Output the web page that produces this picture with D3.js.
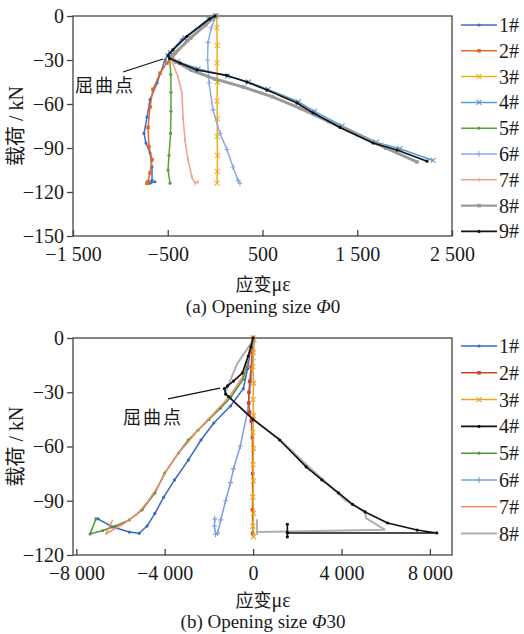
<!doctype html>
<html lang="zh">
<head>
<meta charset="utf-8">
<title>load strain</title>
<script src="https://d3js.org/d3.v7.min.js"></script>
<style>
  body { margin: 0; background: #fff; }
  text { fill: #1a1a1a; }
  .num { font-family: "Liberation Serif", "Times New Roman", serif; }
  .cjk { font-family: "Noto Sans CJK SC", sans-serif; }
</style>
</head>
<body>
<svg id="fig" width="524" height="634"></svg>
<script>
// ---- panel (a) : opening size 0, [strain, load]
var a1 = [[0,0],[-120,-5],[-350,-16],[-480,-25],[-529,-30],[-613,-45.7],[-687,-57],[-719,-69],[-751,-80],[-730,-86.6],[-687,-93.4],[-666,-103],[-666,-112],[-687,-114],[-635,-113]];
var a2 = [[0,0],[-100,-6],[-300,-17],[-450,-27],[-508,-32],[-582,-39],[-656,-50],[-687,-62],[-708,-76],[-698,-89],[-666,-98],[-687,-107],[-708,-113],[-719,-114]];
var a3 = [[15,0],[18,-8],[22,-20],[20,-32],[24,-45],[20,-58],[23,-70],[21,-82],[25,-95],[22,-106],[20,-114]];
var a4 = [[0,0],[-70,-2],[-320,-15],[-470,-25],[-500,-27],[-400,-31],[-180,-36],[130,-41],[350,-45],[560,-50],[880,-58.5],[1050,-65],[1340,-75],[1700,-86],[1950,-90.5],[2300,-98.5]];
var a5 = [[0,0],[-100,-6],[-300,-17],[-440,-26],[-480,-29],[-468,-40],[-466,-52],[-466,-65],[-470,-80],[-487,-95],[-497,-105],[-476,-114]];
var a6 = [[10,0],[-40,-8],[-75,-18],[-80,-30],[-64,-45.7],[-22,-64],[51,-80],[125,-91],[189,-103],[241,-112],[262,-114]];
var a7 = [[0,0],[-110,-7],[-320,-19],[-440,-28],[-455,-31],[-392,-41.6],[-350,-52.5],[-339,-69],[-318,-84.5],[-286,-98],[-244,-110],[-212,-114],[-181,-113]];
var a8 = [[0,0],[-30,-2],[-260,-15],[-420,-25],[-460,-28],[-420,-31],[-250,-37],[0,-43],[300,-48.5],[600,-55],[900,-63],[1200,-72],[1500,-81],[1800,-90],[2130,-99.5]];
var a9 = [[0,0],[-60,-2],[-300,-14],[-445,-23],[-497,-27],[-480,-29],[-371,-32],[-191,-36.8],[125,-40.5],[336,-45],[547,-50.5],[864,-59.3],[1033,-66],[1318,-76],[1666,-86.6],[1920,-91.4],[2236,-99]];

// ---- panel (b) : opening size 30
var b1 = [[0,0],[-133,-8],[-250,-17],[-444,-28],[-1022,-37.6],[-1778,-47],[-2356,-56.4],[-2933,-67.5],[-3555,-78.5],[-4044,-88],[-4444,-97],[-4800,-104],[-5155,-108],[-5600,-107.3],[-6355,-104.5],[-7022,-100]];
var b2 = [[0,0],[-40,-8],[-90,-16],[-150,-24],[-190,-30],[-200,-36],[-160,-41],[-80,-46],[-30,-55],[-20,-75],[-25,-95],[-20,-108]];
var b3 = [[0,0],[20,-8],[-10,-16],[25,-25],[-5,-34],[20,-43],[-10,-52],[25,-61],[-5,-70],[20,-79],[-10,-88],[25,-97],[-10,-104],[10,-110]];
var b4 = [[0,0],[-100,-5],[-222,-10],[-489,-19.4],[-889,-23.8],[-1155,-26.5],[-1300,-28],[-1244,-31],[-1100,-32.5],[0,-45],[1200,-56.4],[2400,-71.3],[3111,-78.5],[3866,-85.7],[4500,-92],[5067,-96.2],[6089,-102.3],[7422,-106.2],[8311,-107.8],[1550,-107.8],[1550,-103],[1550,-110],[1550,-107.5]];
var b5 = [[0,0],[-133,-7],[-444,-22.7],[-1022,-33],[-1467,-38.7],[-2000,-45],[-2500,-51],[-2933,-56.4],[-3378,-63.6],[-4000,-74.7],[-4444,-85.7],[-5022,-95],[-5600,-100.6],[-6222,-104],[-6800,-106.5],[-7378,-108.4],[-7111,-100]];
var b6 = [[0,0],[44,-2],[0,-12],[-89,-22.7],[-267,-41.5],[-578,-59.7],[-889,-72.4],[-1022,-80],[-1244,-90],[-1467,-100.6],[-1600,-107.8],[-1700,-108.5],[-1750,-104],[-1733,-100]];
var b7 = [[0,0],[-150,-8],[-500,-22],[-1050,-32],[-1500,-38],[-2000,-44.5],[-2500,-51],[-2900,-57],[-3400,-64],[-3900,-73],[-4300,-82],[-4800,-91],[-5300,-98],[-5900,-103],[-6400,-106.5],[-6667,-108.4],[-6355,-100.6]];
var b8 = [[0,0],[-44,-2],[-267,-6],[-711,-14],[-1022,-23],[-1244,-30],[-1155,-32],[0,-45],[1200,-56],[2400,-70],[3500,-82],[4200,-90],[5067,-96],[5111,-99.6],[5955,-106],[311,-107.3],[178,-107.3],[178,-100.6],[178,-108.9]];

var topNames = ["1#","2#","3#","4#","5#","6#","7#","8#","9#"];
var botNames = ["1#","2#","3#","4#","5#","6#","7#","8#"];
var topYTicks = [0,-30,-60,-90,-120,-150];
var topXTicks = [-1500,-500,500,1500,2500];
var botYTicks = [0,-30,-60,-90,-120];
var botXTicks = [-8000,-4000,0,4000,8000];

// styles
var topColor = ["#3d6ec8","#e2692a","#edb021","#5b9bd5","#5aa33c","#8eaae2","#f4a08a","#9a9a9a","#111"];
var topMark  = ["dot","square","x","x","dot","plus","dash","square","dot"];
var topWidth = [1.5,1.5,1.5,1.5,1.5,1.5,1.5,3,1.6];
var botColor = ["#3a67c4","#c8452e","#eba420","#111","#4e9a3a","#7c9de0","#f58a6e","#b0b0b0"];
var botMark  = ["dot","square","x","dot","dot","plus","none","none"];
var botWidth = [1.5,1.5,1.5,1.6,1.6,1.5,1.5,2];

var svg = d3.select("#fig");
var fmt = function(v){ return d3.format(",")(v).replace(/,/g," "); };

function drawMarker(g, type, x, y, col) {
  if (type == "dot") g.append("circle").attr("cx",x).attr("cy",y).attr("r",1.6).attr("fill",col);
  else if (type == "square") g.append("rect").attr("x",x-1.8).attr("y",y-1.8).attr("width",3.6).attr("height",3.6).attr("fill",col);
  else if (type == "x") g.append("path").attr("d","M"+(x-2.5)+","+(y-2.5)+"l5,5M"+(x+2.5)+","+(y-2.5)+"l-5,5").attr("stroke",col).attr("stroke-width",1.1);
  else if (type == "plus") g.append("path").attr("d","M"+(x-2.5)+","+y+"h5M"+x+","+(y-3)+"v6").attr("stroke",col).attr("stroke-width",1.1);
  else if (type == "dash") g.append("path").attr("d","M"+x+","+(y-2)+"v4").attr("stroke",col).attr("stroke-width",1.2);
}

function panel(o) {
  var x = d3.scaleLinear().domain(o.xDom).range([73,452]);
  var y = d3.scaleLinear().domain([o.yMin,0]).range([o.bottom,o.top]);

  // frame
  svg.append("rect").attr("x",73).attr("y",o.top).attr("width",379).attr("height",o.bottom-o.top)
    .attr("fill","none").attr("stroke","#444").attr("stroke-width",1.3);

  var ya = svg.append("g").attr("transform","translate(73,0)")
    .call(d3.axisLeft(y).tickValues(o.yTicks).tickSize(6).tickPadding(3).tickFormat(fmt));
  var xa = svg.append("g").attr("transform","translate(0,"+o.bottom+")")
    .call(d3.axisBottom(x).tickValues(o.xTicks).tickSize(-6).tickPadding(11).tickFormat(fmt));
  [ya,xa].forEach(function(a){
    a.select(".domain").remove();
    a.selectAll("line").attr("stroke","#444").attr("stroke-width",1.3);
    a.selectAll("text").attr("class","num").style("font-size","20px").attr("fill","#1a1a1a");
  });

  var line = d3.line().x(function(d){return x(d[0]);}).y(function(d){return y(d[1]);});
  var g = svg.append("g");
  o.order.forEach(function(i){
    var s = o.series[i];
    g.append("path").datum(s).attr("d",line).attr("fill","none")
      .attr("stroke",o.colors[i]).attr("stroke-width",o.widths[i]).attr("stroke-linejoin","round");
    s.forEach(function(d){ drawMarker(g, o.marks[i], x(d[0]), y(d[1]), o.colors[i]); });
  });

  // buckling point note
  svg.append("line").attr("x1",x(o.note[2])).attr("y1",y(o.note[3])).attr("x2",x(o.note[4])).attr("y2",y(o.note[5]))
    .attr("stroke","#111").attr("stroke-width",1.2);
  svg.append("text").attr("class","cjk").attr("x",x(o.note[0])).attr("y",y(o.note[1]))
    .style("font-size","18px").style("letter-spacing","2px").text("屈曲点");

  // legend
  var lg = svg.append("g");
  o.names.forEach(function(n,i){
    var ly = o.legTop + i*o.legStep;
    lg.append("line").attr("x1",461).attr("x2",497).attr("y1",ly).attr("y2",ly)
      .attr("stroke",o.colors[i]).attr("stroke-width",Math.min(o.widths[i],2.4));
    drawMarker(lg, o.marks[i], 479, ly, o.colors[i]);
    lg.append("text").attr("class","num").attr("x",499).attr("y",ly+7).style("font-size","20px").text(n);
  });

  // axis titles
  var yl = svg.append("text").attr("transform","translate(23,"+((o.top+o.bottom)/2)+") rotate(-90)")
    .attr("text-anchor","middle").style("font-size","20px");
  yl.append("tspan").attr("class","cjk").text("载荷");
  yl.append("tspan").attr("class","num").text(" / kN");
  var xl = svg.append("text").attr("x",263).attr("y",o.bottom+o.xlab).attr("text-anchor","middle").style("font-size","20px");
  xl.append("tspan").attr("class","cjk").style("font-size","18px").text("应变");
  xl.append("tspan").attr("class","num").text("με");
  var cap = svg.append("text").attr("class","num").attr("x",263).attr("y",o.bottom+o.capY)
    .attr("text-anchor","middle").style("font-size","19px");
  cap.append("tspan").text(o.cap);
  cap.append("tspan").style("font-style","italic").text("Φ");
  cap.append("tspan").text(o.capNum);
}

panel({
  xDom:[-1500,2500], yMin:-150, top:16, bottom:236,
  xTicks:topXTicks, yTicks:topYTicks,
  series:[a1,a2,a3,a4,a5,a6,a7,a8,a9], names:topNames,
  colors:topColor, marks:topMark, widths:topWidth,
  order:[0,1,2,4,5,6,3,7,8],
  note:[-1480,-52,-972,-38.2,-550,-29.3],
  legTop:25, legStep:25.8, xlab:55, capY:77,
  cap:"(a) Opening size ", capNum:"0"
});
panel({
  xDom:[-8150,9000], yMin:-120, top:338, bottom:555,
  xTicks:botXTicks, yTicks:botYTicks,
  series:[b1,b2,b3,b4,b5,b6,b7,b8], names:botNames,
  colors:botColor, marks:botMark, widths:botWidth,
  order:[7,0,4,6,5,1,2,3],
  note:[-5888,-47.6,-3851,-33.7,-1498,-27.7],
  legTop:346, legStep:26.8, xlab:52, capY:73,
  cap:"(b) Opening size ", capNum:"30"
});
</script>
</body>
</html>
